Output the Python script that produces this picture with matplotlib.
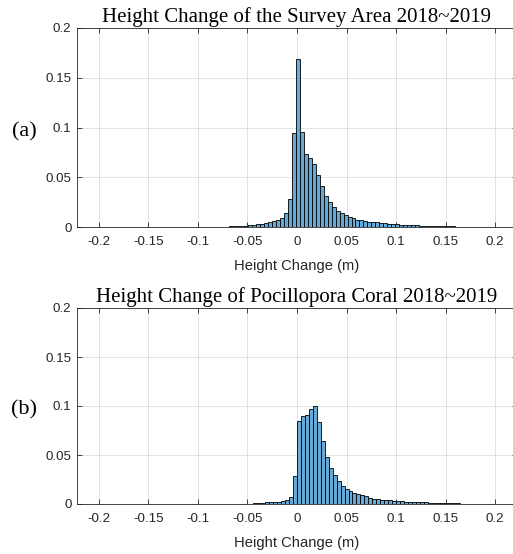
import numpy as np
import matplotlib.pyplot as plt

# histogram data (probability per bin), bin width 0.004
bin_width = 0.004

area_first_edge = -0.077
area_heights = [0.0005, 0.0005, 0.0006, 0.0006, 0.0007, 0.0008, 0.0009,
                0.0017, 0.002, 0.0027, 0.0034, 0.004, 0.005, 0.006, 0.007,
                0.0088, 0.0139, 0.028, 0.094,
                0.169, 0.095, 0.0737, 0.0696, 0.0635, 0.0527, 0.0416, 0.0314,
                0.025, 0.0205, 0.0162, 0.0139, 0.0118, 0.0097, 0.0088, 0.0074,
                0.0068, 0.006, 0.0054, 0.005, 0.0047, 0.0044, 0.0037, 0.0034,
                0.0034, 0.003, 0.0024, 0.0024, 0.0024, 0.002, 0.002,
                0.0013, 0.0012, 0.0011, 0.001, 0.0009, 0.0008, 0.0007, 0.0007,
                0.0006, 0.0005]

coral_first_edge = -0.052
coral_heights = [0.0005, 0.0005, 0.0006, 0.0007, 0.0008,
                 0.002, 0.002, 0.002, 0.002, 0.003, 0.004, 0.0075, 0.0285,
                 0.0847, 0.0895, 0.0905, 0.0973, 0.0997, 0.0837, 0.064, 0.048,
                 0.0363, 0.0294, 0.0236, 0.0186, 0.0155, 0.0132, 0.0111, 0.0098,
                 0.0088, 0.0078, 0.0061, 0.0054, 0.0047, 0.004, 0.004, 0.0037,
                 0.003, 0.003, 0.003, 0.0024, 0.0024, 0.0024, 0.0024, 0.002, 0.002,
                 0.0012, 0.0011, 0.001, 0.0009, 0.0008, 0.0007, 0.0006, 0.0006,
                 0.0005]

titles = ['Height Change of the Survey Area 2018~2019',
          'Height Change of Pocillopora Coral 2018~2019']
panel_labels = ['(a)', '(b)']
xticks = [-0.2, -0.15, -0.1, -0.05, 0, 0.05, 0.1, 0.15, 0.2]
yticks = [0, 0.05, 0.1, 0.15, 0.2]

bar_color = '#66aad7'
ax_color = '#262626'
sans = 'Liberation Sans'
serif = 'Liberation Serif'

W, H = 513, 554
fig = plt.figure(figsize=(W / 100, H / 100), dpi=100)

# axes boxes in pixels: left, top, right, bottom
boxes = [(77, 28, 517, 227), (77, 308, 517, 504)]
data = [(area_first_edge, area_heights), (coral_first_edge, coral_heights)]

for (l, t, r, b), (e0, h), title, lab in zip(boxes, data, titles, panel_labels):
    ax = fig.add_axes([l / W, 1 - b / H, (r - l) / W, (b - t) / H])
    edges = e0 + bin_width * np.arange(len(h))
    ax.bar(edges, h, width=bin_width, align='edge', color=bar_color,
           edgecolor='black', linewidth=0.6, zorder=3)
    ax.set_xlim(-0.222, 0.222)
    ax.set_ylim(0, 0.2)
    ax.set_xticks(xticks)
    ax.set_xticklabels(['%g' % v for v in xticks])
    ax.set_yticks(yticks)
    ax.set_yticklabels(['%g' % v for v in yticks])
    ax.grid(True, color='#262626', alpha=0.15, linewidth=0.6)
    ax.set_axisbelow(True)
    ax.tick_params(direction='in', length=3.5, width=0.6, color=ax_color,
                   top=True, right=True, labelsize=9.6, labelcolor=ax_color, pad=4)
    ax.tick_params(axis='x', pad=6.5)
    for lbl in ax.get_xticklabels() + ax.get_yticklabels():
        lbl.set_family(sans)
    for s in ax.spines.values():
        s.set_color(ax_color)
        s.set_linewidth(0.6)
    ax.set_xlabel('Height Change (m)', fontsize=10.6, family=sans,
                  color=ax_color, labelpad=8)
    ax.set_title(title, fontsize=15, family=serif, pad=4)
    fig.text(24 / W, 1 - ((t + b) / 2 + 4) / H, lab, fontsize=16,
             family=serif, ha='center', va='center')

fig.savefig('out.png', dpi=100)
